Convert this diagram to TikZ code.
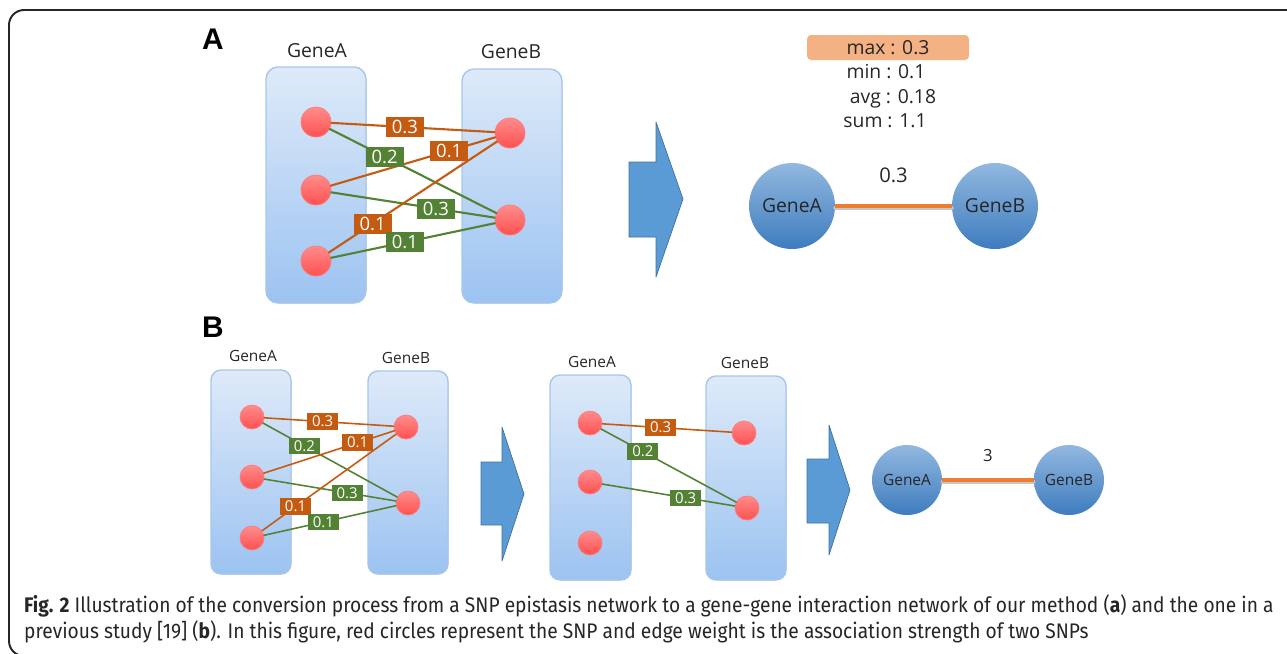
\documentclass[tikz,border=0pt]{standalone}
\usepackage{fontspec}
\setmainfont{Open Sans}
\newfontfamily\capfont[FakeStretch=0.91]{Fira Sans}
\newfontfamily\letterfont{Liberation Sans}
\usetikzlibrary{positioning}
\definecolor{colTop}{RGB}{222,234,249}
\definecolor{colBottom}{RGB}{156,195,241}
\definecolor{colEdge}{RGB}{166,199,235}
\definecolor{snpTop}{RGB}{255,140,140}
\definecolor{snpBottom}{RGB}{255,80,80}
\definecolor{edgeOrange}{RGB}{197,90,17}
\definecolor{edgeGreen}{RGB}{84,130,53}
\definecolor{arrowBlue}{RGB}{91,155,213}
\definecolor{arrowEdge}{RGB}{65,113,156}
\definecolor{geneTop}{RGB}{146,184,224}
\definecolor{geneBottom}{RGB}{62,124,190}
\definecolor{linkOrange}{RGB}{237,125,49}
\definecolor{statOrange}{RGB}{244,177,131}

\begin{document}
\begin{tikzpicture}[x=0.02cm,y=-0.02cm,line cap=round,line join=round,
 genecol/.style={rounded corners=0.24cm,top color=colTop,bottom color=colBottom,draw=colEdge,thick},
 snp/.style={circle,inner sep=0pt,minimum size=0.6cm,top color=snpTop,bottom color=snpBottom,draw=snpTop!70!snpBottom},
 snpsmall/.style={snp,minimum size=0.48cm},
 wlab/.style={fill=#1,text=white,inner sep=0pt,minimum width=0.76cm,minimum height=0.4cm,font=\fontsize{10.5}{11}\selectfont},
 wlabsmall/.style={wlab=#1,minimum width=0.62cm,minimum height=0.33cm,font=\fontsize{8.5}{9}\selectfont},
 gene/.style={circle,inner sep=0pt,minimum size=1.72cm,top color=geneTop,bottom color=geneBottom,text=black!85,font=\fontsize{11}{13}\selectfont},
 genesmall/.style={gene,minimum size=1.4cm,font=\fontsize{8.8}{10}\selectfont},
 bigarrow/.style={fill=arrowBlue,draw=arrowEdge,thin},
 collab/.style={anchor=base,text=black!85,font=\fontsize{11}{13}\selectfont},
 collabsmall/.style={collab,font=\fontsize{8.8}{10}\selectfont},
 oedge/.style={edgeOrange,line width=1.2pt},
 gedge/.style={edgeGreen,line width=1.2pt},
 oedgesmall/.style={edgeOrange,line width=0.9pt},
 gedgesmall/.style={edgeGreen,line width=0.9pt}]
\useasboundingbox (0,0) rectangle (1287,653);
% Ramka wokół całej ilustracji (prawa krawędź poza kadrem).
\draw[black!85,line width=1.1pt,rounded corners=0.3cm] (1300,10) -- (9,10) -- (9,656) -- (1300,656);

% Panel A: sieć SNP dwóch genów.
\node[anchor=base west,font=\letterfont\bfseries\fontsize{17}{18}\selectfont] (panA) at (196,49) {A};
\filldraw[genecol] (266,67) rectangle (366,303);
\filldraw[genecol] (462,69) rectangle (562,303);
\node[collab] (labA) at (317,57) {GeneA};
\node[collab] (labB) at (511,58) {GeneB};
\node[snp] (ta1) at (316,122) {};
\node[snp] (ta2) at (316,190) {};
\node[snp] (ta3) at (316,261) {};
\node[snp] (tb1) at (510,133) {};
\node[snp] (tb2) at (510,220) {};
\draw[oedge] (ta1) -- (tb1);
\draw[gedge] (ta1) -- (tb2);
\draw[oedge] (ta2) -- (tb1);
\draw[gedge] (ta2) -- (tb2);
\draw[oedge] (ta3) -- (tb1);
\draw[gedge] (ta3) -- (tb2);
\path (ta1) -- (tb1) node[pos=0.45,wlab=edgeOrange] (tw1) {0.3};
\path (ta1) -- (tb2) node[pos=0.33,wlab=edgeGreen] (tw2) {0.2};
\path (ta2) -- (tb1) node[pos=0.72,wlab=edgeOrange] (tw3) {0.1};
\path (ta2) -- (tb2) node[pos=0.64,wlab=edgeGreen] (tw4) {0.3};
\path (ta3) -- (tb1) node[pos=0.26,wlab=edgeOrange] (tw5) {0.1};
\path (ta3) -- (tb2) node[pos=0.45,wlab=edgeGreen] (tw6) {0.1};
\filldraw[bigarrow] (629,162) -- (656,162) -- (656,122) -- (683,199) -- (656,277) -- (656,237) -- (629,237) -- cycle;
% Wynik: statystyki wag i krawędź gen-gen.
\node[fill=statOrange,rounded corners=0.08cm,minimum width=3.24cm,minimum height=0.5cm,inner sep=0pt,
 text=black!85,font=\fontsize{11}{13}\selectfont] (smax) at (888,47.5) {max : 0.3};
\node[collab] (smin) at (886,78) {min : 0.1};
\node[collab] (savg) at (893,103) {avg : 0.18};
\node[collab] (ssum) at (885,127) {sum : 1.1};
\node[gene] (topgA) at (792,206) {GeneA};
\node[gene] (topgB) at (995,206) {GeneB};
\draw[black!22,line width=2.3pt] ([yshift=-1.1pt]topgA.east) -- ([yshift=-1.1pt]topgB.west);
\draw[linkOrange,line width=2.3pt,line cap=butt] (topgA) -- (topgB)
 node[midway,above=0.3cm,text=black!85,font=\fontsize{11.5}{13}\selectfont] (tlink) {0.3};

% Panel B: wcześniejsze podejście.
\node[anchor=base west,font=\letterfont\bfseries\fontsize{17}{18}\selectfont] (panB) at (196,337) {B};
\filldraw[genecol,rounded corners=0.2cm] (211,370) rectangle (291,574);
\filldraw[genecol,rounded corners=0.2cm] (368,371) rectangle (448,574);
\node[collabsmall] (lowlabA) at (253,361) {GeneA};
\node[collabsmall] (lowlabB) at (406,363) {GeneB};
\node[snpsmall] (la1) at (252,417) {};
\node[snpsmall] (la2) at (252,477) {};
\node[snpsmall] (la3) at (252,538) {};
\node[snpsmall] (lb1) at (406,427) {};
\node[snpsmall] (lb2) at (408,503) {};
\draw[oedgesmall] (la1) -- (lb1);
\draw[gedgesmall] (la1) -- (lb2);
\draw[oedgesmall] (la2) -- (lb1);
\draw[gedgesmall] (la2) -- (lb2);
\draw[oedgesmall] (la3) -- (lb1);
\draw[gedgesmall] (la3) -- (lb2);
\path (la1) -- (lb1) node[pos=0.45,wlabsmall=edgeOrange] (lw1) {0.3};
\path (la1) -- (lb2) node[pos=0.31,wlabsmall=edgeGreen] (lw2) {0.2};
\path (la2) -- (lb1) node[pos=0.72,wlabsmall=edgeOrange] (lw3) {0.1};
\path (la2) -- (lb2) node[pos=0.63,wlabsmall=edgeGreen] (lw4) {0.3};
\path (la3) -- (lb1) node[pos=0.25,wlabsmall=edgeOrange] (lw5) {0.1};
\path (la3) -- (lb2) node[pos=0.45,wlabsmall=edgeGreen] (lw6) {0.1};
\filldraw[bigarrow] (481,462) -- (502,462) -- (502,427) -- (524,494) -- (502,561) -- (502,525) -- (481,525) -- cycle;
% Po odcięciu progiem zostają trzy krawędzie.
\filldraw[genecol,rounded corners=0.2cm] (550,375) rectangle (631,580);
\filldraw[genecol,rounded corners=0.2cm] (706,376) rectangle (786,580);
\node[collabsmall] (midlabA) at (592,367) {GeneA};
\node[collabsmall] (midlabB) at (745,368) {GeneB};
\node[snpsmall] (ma1) at (590,423) {};
\node[snpsmall] (ma2) at (590,482) {};
\node[snpsmall] (ma3) at (590,543) {};
\node[snpsmall] (mb1) at (744,433) {};
\node[snpsmall] (mb2) at (747,508) {};
\draw[oedgesmall] (ma1) -- (mb1);
\draw[gedgesmall] (ma1) -- (mb2);
\draw[gedgesmall] (ma2) -- (mb2);
\path (ma1) -- (mb1) node[pos=0.45,wlabsmall=edgeOrange] (mw1) {0.3};
\path (ma1) -- (mb2) node[pos=0.31,wlabsmall=edgeGreen] (mw2) {0.2};
\path (ma2) -- (mb2) node[pos=0.63,wlabsmall=edgeGreen] (mw3) {0.3};
\filldraw[bigarrow] (807,459) -- (829,459) -- (829,425) -- (850,490) -- (829,555) -- (829,523) -- (807,523) -- cycle;
\node[genesmall] (lowgA) at (907,480) {GeneA};
\node[genesmall] (lowgB) at (1069,480) {GeneB};
\draw[black!22,line width=2pt] ([yshift=-1pt]lowgA.east) -- ([yshift=-1pt]lowgB.west);
\draw[linkOrange,line width=2pt,line cap=butt] (lowgA) -- (lowgB)
 node[midway,above=0.22cm,text=black!85,font=\fontsize{9.5}{10}\selectfont] (llink) {3};

% Podpis.
\node[anchor=base west,text=black!85,font=\capfont\fontsize{12}{14}\selectfont] (cap1) at (18,612)
 {\textbf{Fig. 2} Illustration of the conversion process from a SNP epistasis network to a gene-gene interaction network of our method (\textbf{a}) and the one in a};
\node[anchor=base west,text=black!85,font=\capfont\fontsize{12}{14}\selectfont] (cap2) at (18,638)
 {previous study [19] (\textbf{b}). In this figure, red circles represent the SNP and edge weight is the association strength of two SNPs};
\end{tikzpicture}
\end{document}
